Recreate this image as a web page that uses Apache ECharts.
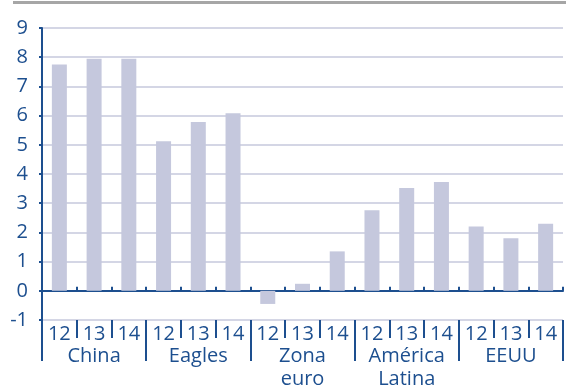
<!DOCTYPE html>
<html>
<head>
<meta charset="utf-8">
<script src="https://cdn.jsdelivr.net/npm/echarts@6/dist/echarts.min.js"></script>
<style>
  html, body { margin: 0; padding: 0; background: #fff; }
  #chart { width: 566px; height: 391px; }
</style>
</head>
<body>
<div id="chart"></div>
<script>
// data
var groups = ['China', 'Eagles', 'Zona\neuro', 'América\nLatina', 'EEUU']
var years = ['12', '13', '14']
var values = [
  7.75, 7.95, 7.95,
  5.12, 5.78, 6.08,
  -0.45, 0.24, 1.35,
  2.76, 3.52, 3.73,
  2.2, 1.8, 2.3
]
var yTicks = { min: -1, max: 9, step: 1 }

var blue = '#1d4f8f'
var font = 'Open Sans'

var cats = []
groups.forEach(function (g) {
  years.forEach(function (y) { cats.push(y) })
})

var dom = echarts.init(document.getElementById('chart'))
dom.setOption({
  animation: false,
  graphic: [
    { type: 'rect', shape: { x: 13, y: 1, width: 553, height: 3 }, style: { fill: '#a6a6a6' } }
  ],
  grid: { left: 42, right: 3, top: 28, bottom: 67.5 },
  xAxis: [
    {
      type: 'category',
      data: cats,
      axisLine: { show: true, onZero: true, lineStyle: { color: blue, width: 2 } },
      axisTick: { show: true, inside: true, length: 4, lineStyle: { color: blue, width: 2 } },
      axisLabel: { show: false }
    },
    {
      type: 'category',
      data: cats,
      position: 'bottom',
      axisLine: { show: true, onZero: false, lineStyle: { opacity: 0 } },
      axisTick: { show: true, length: 18, lineStyle: { color: blue, width: 2 } },
      axisLabel: { color: blue, fontFamily: font, fontSize: 20, margin: 4 }
    },
    {
      type: 'category',
      data: groups,
      position: 'bottom',
      axisLine: { show: true, onZero: false, lineStyle: { opacity: 0 } },
      axisTick: { show: true, length: 41, lineStyle: { color: blue, width: 2 } },
      axisLabel: { color: blue, fontFamily: font, fontSize: 20, lineHeight: 23, margin: 25, verticalAlign: 'top' }
    }
  ],
  yAxis: {
    type: 'value',
    min: yTicks.min,
    max: yTicks.max,
    interval: yTicks.step,
    axisLine: { show: true, lineStyle: { color: blue, width: 2 } },
    axisTick: { show: true, length: 3, lineStyle: { color: blue, width: 2 } },
    axisLabel: { color: blue, fontFamily: font, fontSize: 20, margin: 14 },
    splitLine: { lineStyle: { color: '#c6c8dc', width: 1.5 } }
  },
  series: [
    {
      type: 'bar',
      xAxisIndex: 0,
      data: values,
      barWidth: 15,
      itemStyle: { color: '#c5c8dd' }
    }
  ]
})
</script>
</body>
</html>
